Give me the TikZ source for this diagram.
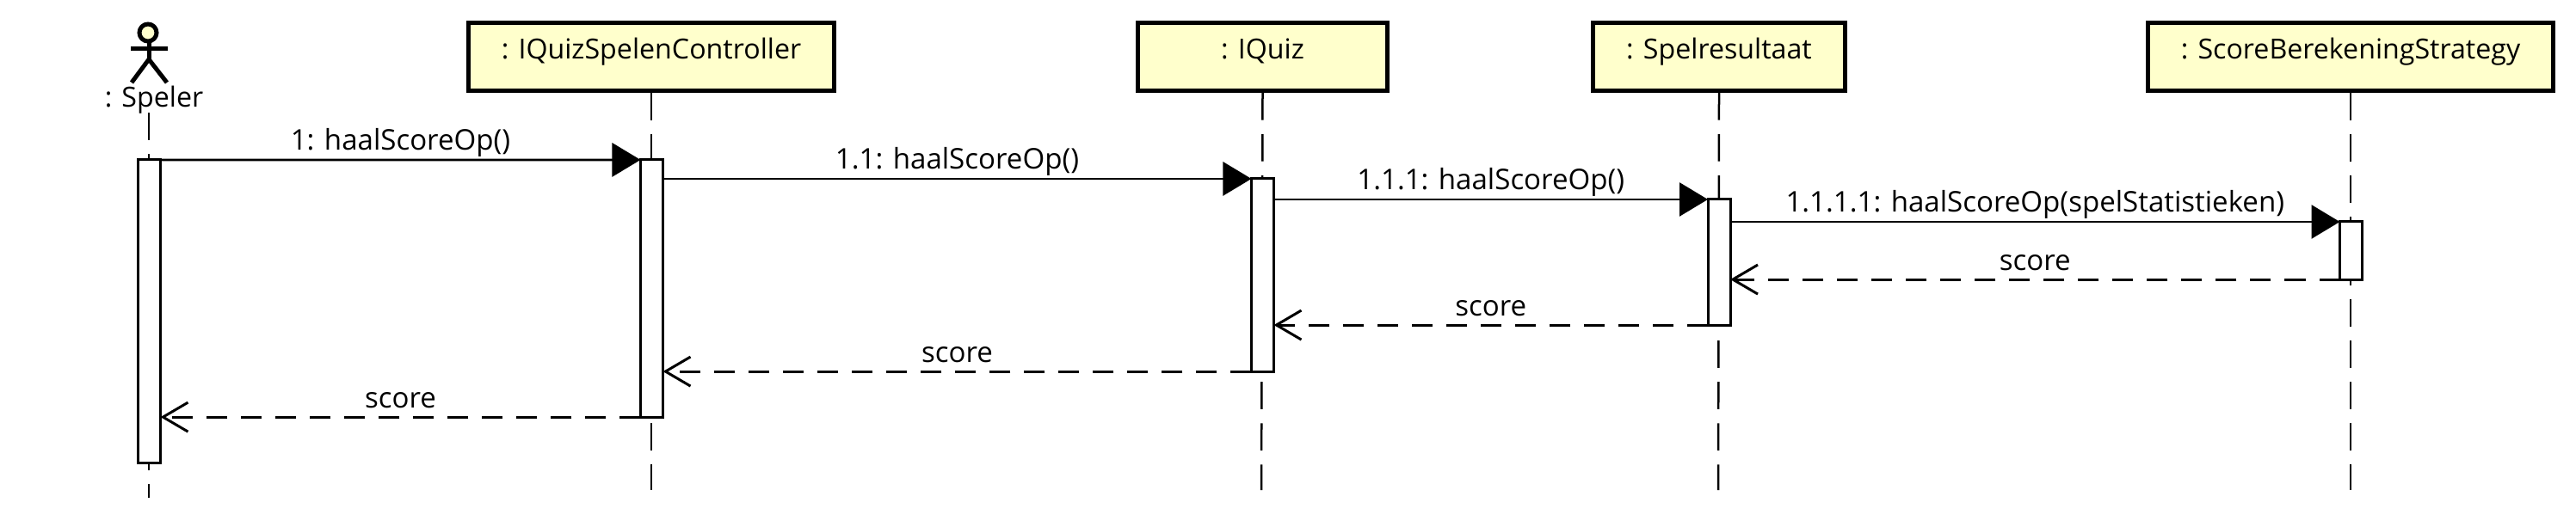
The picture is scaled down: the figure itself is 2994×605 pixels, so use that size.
\documentclass[tikz,border=0pt]{standalone}
\usepackage{fontspec}
\setmainfont{Open Sans}
\usetikzlibrary{arrows.meta}

\tikzset{
    lifebox/.style={draw=black, fill=boxyellow, line width=0.05cm, inner sep=0, minimum height=0.79cm, text height=0.415cm, text depth=0.375cm, font=\fontsize{9.15}{11}\selectfont},
    lifeline/.style={line width=0.025cm, dash pattern=on 0.316cm off 0.164cm},
    activation/.style={draw=black, fill=white, line width=0.03cm, inner sep=0, outer sep=0, minimum width=0.26cm},
    callmsg/.style={line width=0.028cm, -{Triangle[length=0.33cm, width=0.39cm]}},
    returnmsg/.style={line width=0.03cm, dash pattern=on 0.24cm off 0.16cm, -{Straight Barb[length=0.29cm, width=0.34cm]}},
    msglabel/.style={anchor=base, inner sep=0, yshift=0.11cm, font=\fontsize{9.4}{11}\selectfont},
    stick/.style={line width=0.05cm}
}
\definecolor{boxyellow}{RGB}{255,255,204}

\begin{document}
\begin{tikzpicture}[x=0.01cm, y=-0.01cm, font=\fontsize{9.15}{11}\selectfont]

    % page
    \useasboundingbox (0,0) rectangle (2994,605);

    % constants
    \def\yend{570}

    % actor
    \draw[stick, fill=boxyellow] (172,38) circle [radius=10];
    \draw[stick] (173,48) -- (173,69);
    \draw[stick] (152,56) -- (195,56);
    \draw[stick] (153,96) -- (173,69) -- (194,96);
    \node[anchor=base, inner sep=0] (speler) at (179,124) {: Speler};
    \coordinate (spelerTop) at (173,131);
    \coordinate (spelerEnd) at (173,579);

    % lifeline heads
    \node[lifebox, minimum width=4.25cm] (controller) at (757,66) {: IQuizSpelenController};
    \node[lifebox, minimum width=2.90cm] (quiz) at (1467.5,66) {: IQuiz};
    \node[lifebox, minimum width=2.93cm] (resultaat) at (1998,66) {: Spelresultaat};
    \node[lifebox, minimum width=4.71cm] (strategy) at (2732,66) {: ScoreBerekeningStrategy};

    % lifelines
    \coordinate (controllerEnd) at (757,\yend);
    \coordinate (quizEnd) at (1466,\yend);
    \coordinate (resultaatEnd) at (1997,\yend);
    \coordinate (strategyEnd) at (2732,\yend);

    \draw[lifeline] (spelerTop) -- (spelerEnd);
    \draw[lifeline] (controller.south) -- (controllerEnd);
    \draw[lifeline] (quiz.south) -- (quizEnd);
    \draw[lifeline] (resultaat.south) -- (resultaatEnd);
    \draw[lifeline] (strategy.south) -- (strategyEnd);

    % activations
    \node[activation, minimum height=3.52cm] (actSpeler) at (173.5,362) {};
    \node[activation, minimum height=2.99cm] (actController) at (757.5,335.5) {};
    \node[activation, minimum height=2.24cm] (actQuiz) at (1467.5,320) {};
    \node[activation, minimum height=1.46cm] (actResultaat) at (1998,305) {};
    \node[activation, minimum height=0.67cm] (actStrategy) at (2732.5,291.5) {};

    % calls
    \draw[callmsg] (actSpeler.north east) -- node[msglabel] (callOne) {1: haalScoreOp()} (actController.north west);
    \draw[callmsg] (actController.east |- actQuiz.north) -- node[msglabel] (callTwo) {1.1: haalScoreOp()} (actQuiz.north west);
    \draw[callmsg] (actQuiz.east |- actResultaat.north) -- node[msglabel] (callThree) {1.1.1: haalScoreOp()} (actResultaat.north west);
    \draw[callmsg] (actResultaat.east |- actStrategy.north) -- node[msglabel] (callFour) {1.1.1.1: haalScoreOp(spelStatistieken)} (actStrategy.north west);

    % returns
    \draw[returnmsg] (actStrategy.south west) -- node[msglabel] (returnFour) {score} (actResultaat.east |- actStrategy.south);
    \draw[returnmsg] (actResultaat.south west) -- node[msglabel] (returnThree) {score} (actQuiz.east |- actResultaat.south);
    \draw[returnmsg] (actQuiz.south west) -- node[msglabel] (returnTwo) {score} (actController.east |- actQuiz.south);
    \draw[returnmsg] (actController.south west) -- node[msglabel] (returnOne) {score} (actSpeler.east |- actController.south);

\end{tikzpicture}
\end{document}
